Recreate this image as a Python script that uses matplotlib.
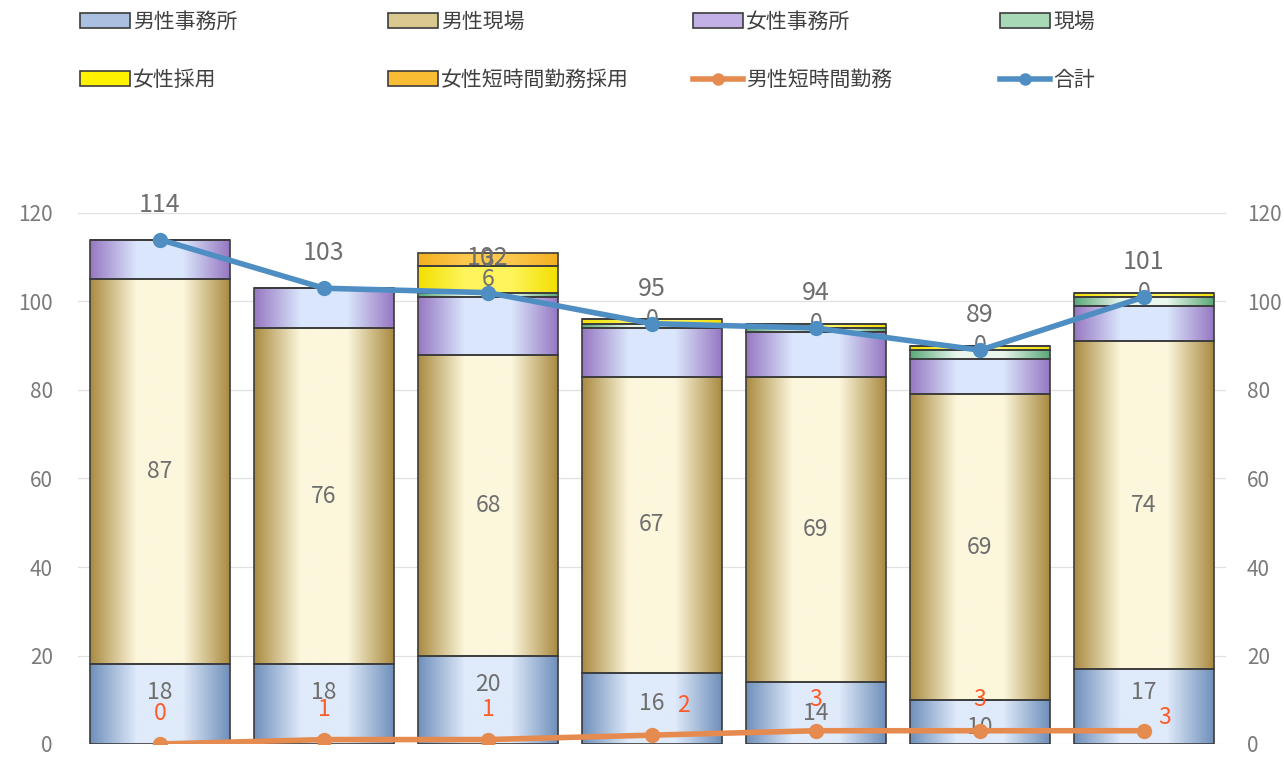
import numpy as np
import matplotlib
matplotlib.use("Agg")
import matplotlib.pyplot as plt
from matplotlib.colors import LinearSegmentedColormap
from matplotlib.patches import Patch
from matplotlib.lines import Line2D

plt.rcParams['font.family'] = ['Noto Sans CJK JP', 'DejaVu Sans']

# ---------------- data ----------------
categories = ['1', '2', '3', '4', '5', '6', '7']
male_office = [18, 18, 20, 16, 14, 10, 17]
male_field = [87, 76, 68, 67, 69, 69, 74]
female_office = [9, 9, 13, 11, 10, 8, 8]
field = [0, 0, 1, 1, 1, 2, 2]
female_hire = [0, 0, 6, 1, 1, 1, 1]
female_short_hire = [np.nan, np.nan, 3, 0, 0, 0, 0]
male_short = [0, 1, 1, 2, 3, 3, 3]
total = [114, 103, 102, 95, 94, 89, 101]
yticks = [0, 20, 40, 60, 80, 100, 120]

series_names = ['男性事務所', '男性現場', '女性事務所', '現場', '女性採用', '女性短時間勤務採用']
line_names = ['男性短時間勤務', '合計']

# ---------------- styles ----------------
grad = [('#6f8fba', '#dfeafa'), ('#a98a40', '#fcf7dc'), ('#9677c2', '#dae6fc'),
        ('#5aa878', '#e8f6ec'), ('#f2e000', '#fff45c'), ('#f4b020', '#fcc84e')]
legend_fill = ['#a9c0e0', '#d9c98e', '#c2b1e6', '#a7d9b7', '#fff200', '#f9bd33']
edge_col = '#3c3c3c'
gray_txt = '#6e6e6e'
tick_txt = '#7a7a7a'
orange_line = '#e58b50'
blue_line = '#4f8ec2'
orange_txt = '#ff5a28'

fig = plt.figure(figsize=(12.84, 7.58), dpi=100)
ax = fig.add_axes([78 / 1284, 1 - 744 / 758, (1226 - 78) / 1284, (744 - 213) / 758])
ax2 = ax.twinx()

x = np.arange(len(categories))
width = 0.85
stack = [male_office, male_field, female_office, field, female_hire, female_short_hire]
bottom = np.zeros(len(categories))
for vals, (ec, cc) in zip(stack, grad):
    v = np.nan_to_num(np.array(vals, dtype=float))
    cmap = LinearSegmentedColormap.from_list('g', [ec, cc, cc, ec], N=256)
    bars = ax.bar(x, v, width, bottom=bottom, color=cc, edgecolor='none', zorder=2)
    for r, h in zip(bars, v):
        if h <= 0:
            continue
        x0, y0 = r.get_x(), r.get_y()
        img = np.linspace(0, 1, 256).reshape(1, -1)
        im = ax.imshow(img, cmap=cmap, extent=[x0, x0 + r.get_width(), y0, y0 + h],
                       aspect='auto', zorder=2.05, interpolation='bilinear')
        im.set_clip_path(r)
    ax.bar(x, v, width, bottom=bottom, facecolor='none', edgecolor=edge_col,
           linewidth=1.2, zorder=2.1)
    bottom = bottom + v

ax.set_xlim(-0.5, len(categories) - 0.5)
ax.set_ylim(0, 120)
ax.set_yticks(yticks)
ax.set_xticks([])
ax.grid(axis='y', color='#e0e0e0', linewidth=0.9, zorder=0)
ax.set_axisbelow(True)
for s in ax.spines.values():
    s.set_visible(False)
ax.tick_params(axis='y', length=0, pad=18, labelsize=15, labelcolor=tick_txt)

ax2.set_ylim(0, 120)
ax2.set_yticks(yticks)
for s in ax2.spines.values():
    s.set_visible(False)
ax2.tick_params(axis='y', length=0, pad=15, labelsize=15, labelcolor=tick_txt)

# bar labels
lab_fs = 16.5
mo_off = [12, 12, 15, 5, 0, -6, 14]
for i, v in enumerate(male_office):
    ax.annotate(str(v), (x[i], v / 2), xytext=(0, mo_off[i]), textcoords='offset pixels',
                ha='center', va='center', fontsize=lab_fs, color=gray_txt, zorder=5)
for i, v in enumerate(male_field):
    ax.annotate(str(v), (x[i], male_office[i] + v / 2), ha='center', va='center',
                fontsize=lab_fs, color=gray_txt, zorder=5)
b_hire = np.array(male_office) + np.array(male_field) + np.array(female_office) + np.array(field)
for i, v in enumerate(female_hire):
    if v >= 5:
        ax.annotate(str(v), (x[i], b_hire[i] + v / 2), ha='center', va='center',
                    fontsize=lab_fs, color=gray_txt, zorder=5)
b_short = b_hire + np.array(female_hire)
for i, v in enumerate(female_short_hire):
    if not np.isnan(v):
        ax.annotate(str(int(v)), (x[i], b_short[i] + v / 2), ha='center', va='center',
                    fontsize=lab_fs, color=gray_txt, zorder=5)

# lines
ax2.plot(x, male_short, color=orange_line, linewidth=4, marker='o', markersize=10, zorder=6)
ax2.plot(x, total, color=blue_line, linewidth=4, marker='o', markersize=10, zorder=7)
for i, v in enumerate(total):
    ax2.annotate(str(v), (x[i], v), xytext=(0, 35), textcoords='offset pixels',
                 ha='center', va='center', fontsize=18, color=gray_txt, zorder=8)
ms_off = [(0, 31), (0, 30), (0, 30), (31, 30), (0, 31), (0, 31), (21, 13)]
for i, v in enumerate(male_short):
    ax2.annotate(str(v), (x[i], v), xytext=ms_off[i], textcoords='offset pixels',
                 ha='center', va='center', fontsize=lab_fs, color=orange_txt, zorder=8)

# legend (manual positions)
handles = [Patch(facecolor=c, edgecolor=edge_col, linewidth=1.2) for c in legend_fill]
handles += [Line2D([], [], color=orange_line, linewidth=4, marker='o', markersize=8),
            Line2D([], [], color=blue_line, linewidth=4, marker='o', markersize=8)]
labels = series_names + line_names
xs = [80, 388, 693, 1000]
ys = [22, 80]
for k, (h, l) in enumerate(zip(handles, labels)):
    cx = xs[k % 4] / 1284
    cy = 1 - ys[k // 4] / 758
    fig.legend(handles=[h], labels=[l], loc='center left', bbox_to_anchor=(cx, cy),
               frameon=False, fontsize=15, handlelength=2.4, handleheight=0.7,
               handletextpad=0.15, borderpad=0, borderaxespad=0, labelcolor='#404040')

fig.savefig('out.png', dpi=100)
